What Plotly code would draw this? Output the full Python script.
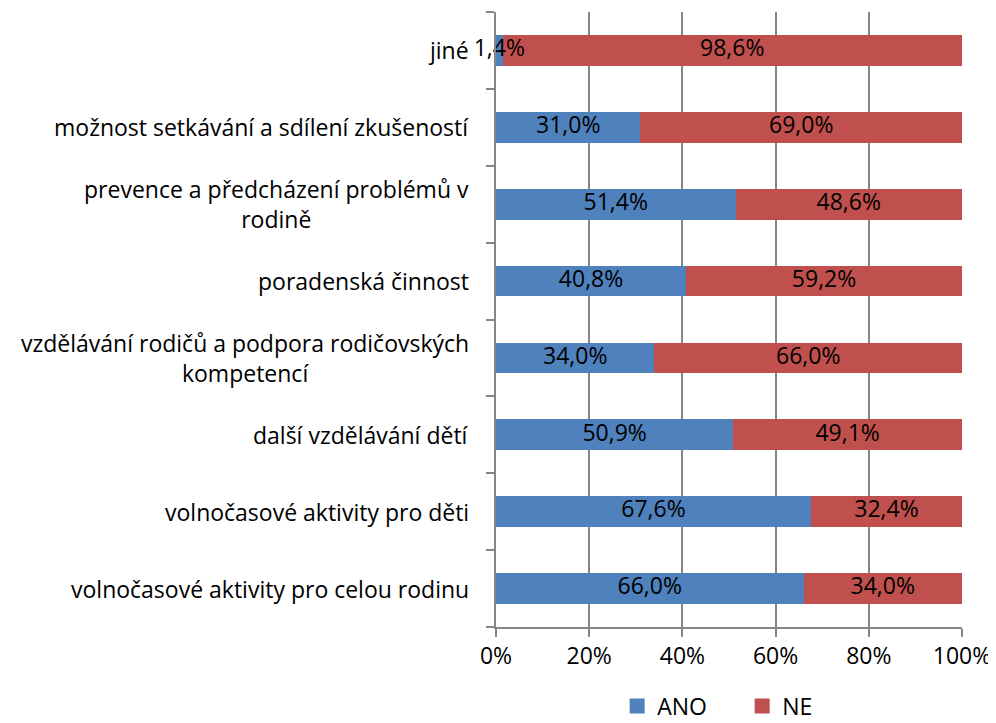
import plotly.graph_objects as go

categories = [
    "volnočasové aktivity pro celou rodinu",
    "volnočasové aktivity pro děti",
    "další vzdělávání dětí",
    "vzdělávání rodičů a podpora rodičovských<br>kompetencí",
    "poradenská činnost",
    "prevence a předcházení problémů v<br>rodině",
    "možnost setkávání a sdílení zkušeností",
    "jiné",
]
ano = [66.0, 67.6, 50.9, 34.0, 40.8, 51.4, 31.0, 1.4]
ne = [34.0, 32.4, 49.1, 66.0, 59.2, 48.6, 69.0, 98.6]
ticks = [0, 20, 40, 60, 80, 100]
tick_labels = ["0%", "20%", "40%", "60%", "80%", "100%"]
series = [("ANO", ano, "#4F81BD"), ("NE", ne, "#C0504D")]

FONT = "Open Sans"
FS = 23
ypos = list(range(len(categories)))

fig = go.Figure()
for name, vals, color in series:
    fig.add_trace(go.Bar(
        y=ypos, x=vals, name=name, orientation="h",
        marker=dict(color=color, line=dict(width=0)),
        textposition="none", hoverinfo="x+name", showlegend=False,
    ))

# value labels on top of both bar layers, centred in each segment
mid_ano = [a / 2 for a in ano]
mid_ne = [a + n / 2 for a, n in zip(ano, ne)]
fig.add_trace(go.Scatter(
    x=mid_ano + mid_ne, y=ypos + ypos, mode="text",
    text=[f"{v:.1f}%".replace(".", ",") for v in ano + ne],
    textposition="middle center", cliponaxis=False,
    textfont=dict(family=FONT, size=FS, color="#000000"),
    showlegend=False, hoverinfo="skip",
))

# legend entries with larger square swatches
for name, vals, color in series:
    fig.add_trace(go.Scatter(
        x=[None], y=[None], mode="markers", name=name,
        marker=dict(symbol="square", size=15, color=color),
        showlegend=True,
    ))

for i, c in enumerate(categories):
    fig.add_annotation(
        x=-0.053, xref="paper", y=i, yref="y", text=c, showarrow=False,
        xanchor="right", yanchor="middle", align="center",
        font=dict(family=FONT, size=FS, color="#000000"),
    )

fig.update_layout(
    barmode="stack", bargap=0.6, separators=", ",
    width=988, height=715,
    margin=dict(l=488, r=34, t=4, b=96, autoexpand=False),
    paper_bgcolor="white", plot_bgcolor="white",
    font=dict(family=FONT, size=FS, color="#000000"),
    legend=dict(orientation="h", x=0.26, xanchor="left", y=-0.1285, yanchor="middle",
                font=dict(family=FONT, size=FS), traceorder="normal",
                itemwidth=30, entrywidth=80, entrywidthmode="pixels",
                bgcolor="rgba(0,0,0,0)"),
    showlegend=True,
)
fig.update_xaxes(
    range=[0, 100], tickvals=ticks, ticktext=tick_labels, automargin=False,
    showgrid=True, gridcolor="#868686", gridwidth=1.5,
    showline=True, linecolor="#868686", linewidth=1.5,
    ticks="outside", ticklen=8, tickcolor="#868686", tickwidth=1.5,
    tickfont=dict(family=FONT, size=FS), zeroline=False,
)
fig.update_yaxes(
    range=[-0.5, len(categories) - 0.5], tickvals=ypos,
    ticktext=[""] * len(categories), automargin=False,
    showline=True, linecolor="#868686", linewidth=1.5,
    showgrid=False, zeroline=False,
)
fig.update_yaxes(minor=dict(tickvals=[i - 0.5 for i in range(len(categories) + 1)],
                            ticks="outside", ticklen=8, tickcolor="#868686", tickwidth=1.5,
                            showgrid=False))
fig.write_html("out.html")
